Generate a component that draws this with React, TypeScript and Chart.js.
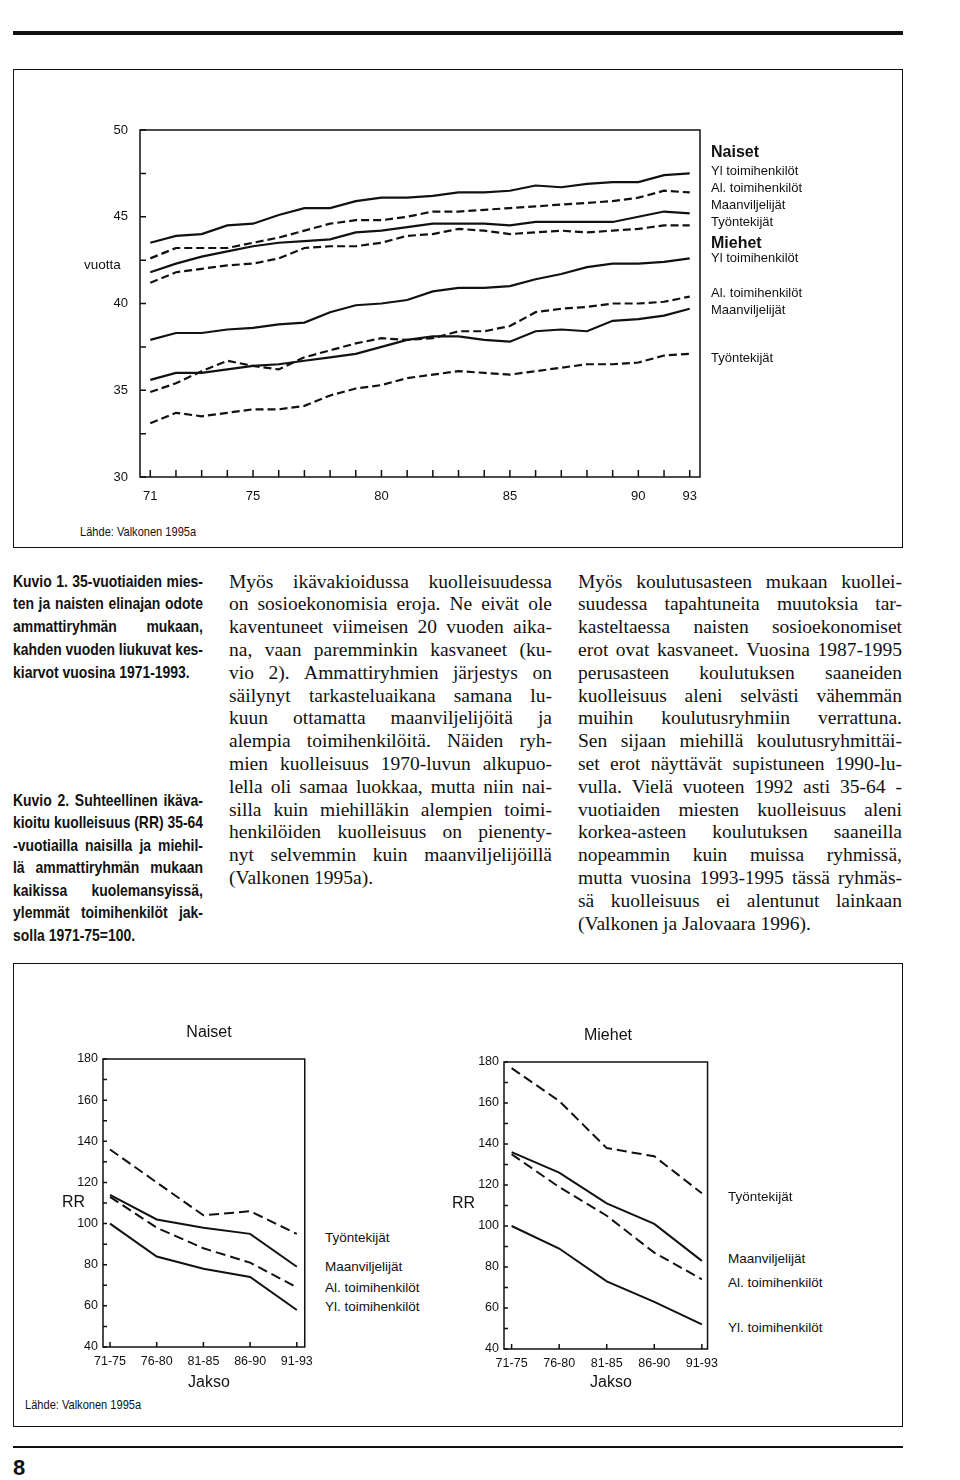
import React, { useEffect, useRef } from 'react';
import { Chart, registerables } from 'chart.js';

Chart.register(...registerables);

const SANS = "'Liberation Sans', Arial, Helvetica, sans-serif";
const SERIF = "'Liberation Serif', 'Times New Roman', serif";
const INK = '#111';

// ---------- Kuvio 1: two-year moving averages 1971-1993 ----------
const yearLabels = ['71', '', '', '', '75', '', '', '', '', '80', '', '', '', '', '85', '', '', '', '', '90', '', '93'];
const topYTicks = [30, 32.5, 35, 37.5, 40, 42.5, 45, 47.5, 50];
const naisetYl = [43.5, 43.9, 44.0, 44.5, 44.6, 45.1, 45.5, 45.5, 45.9, 46.1, 46.1, 46.2, 46.4, 46.4, 46.5, 46.8, 46.7, 46.9, 47.0, 47.0, 47.4, 47.5];
const naisetAl = [42.6, 43.2, 43.2, 43.2, 43.5, 43.8, 44.2, 44.6, 44.8, 44.8, 45.0, 45.3, 45.3, 45.4, 45.5, 45.6, 45.7, 45.8, 45.9, 46.1, 46.5, 46.4];
const naisetMaa = [41.8, 42.3, 42.7, 43.0, 43.3, 43.5, 43.6, 43.7, 44.1, 44.2, 44.4, 44.6, 44.6, 44.6, 44.5, 44.7, 44.7, 44.7, 44.7, 45.0, 45.3, 45.2];
const naisetTyo = [41.2, 41.8, 42.0, 42.2, 42.3, 42.6, 43.2, 43.3, 43.3, 43.5, 43.9, 44.0, 44.3, 44.2, 44.0, 44.1, 44.2, 44.1, 44.2, 44.3, 44.5, 44.5];
const miehetYl = [37.9, 38.3, 38.3, 38.5, 38.6, 38.8, 38.9, 39.5, 39.9, 40.0, 40.2, 40.7, 40.9, 40.9, 41.0, 41.4, 41.7, 42.1, 42.3, 42.3, 42.4, 42.6];
const miehetAl = [34.9, 35.4, 36.1, 36.7, 36.4, 36.2, 36.9, 37.3, 37.7, 38.0, 37.9, 38.0, 38.4, 38.4, 38.7, 39.5, 39.7, 39.8, 40.0, 40.0, 40.1, 40.4];
const miehetMaa = [35.6, 36.0, 36.0, 36.2, 36.4, 36.5, 36.7, 36.9, 37.1, 37.5, 37.9, 38.1, 38.1, 37.9, 37.8, 38.4, 38.5, 38.4, 39.0, 39.1, 39.3, 39.7];
const miehetTyo = [33.1, 33.7, 33.5, 33.7, 33.9, 33.9, 34.1, 34.7, 35.1, 35.3, 35.7, 35.9, 36.1, 36.0, 35.9, 36.1, 36.3, 36.5, 36.5, 36.6, 37.0, 37.1];

// ---------- Kuvio 2: RR by period ----------
const periods = ['71-75', '76-80', '81-85', '86-90', '91-93'];
const rrYTicks = [40, 50, 60, 70, 80, 90, 100, 110, 120, 130, 140, 150, 160, 170, 180];
const nTyo = [136, 120, 104, 106, 95];
const nMaa = [114, 102, 98, 95, 79];
const nAl = [113, 98, 88, 81, 69];
const nYl = [100, 84, 78, 74, 58];
const mTyo = [177, 161, 138, 134, 116];
const mMaa = [136, 126, 111, 101, 83];
const mAl = [135, 119, 105, 87, 74];
const mYl = [100, 89, 73, 63, 52];

// ---------- Text ----------
const kuvio1Lines = [
  'Kuvio 1. 35-vuotiaiden mies-',
  'ten ja naisten elinajan odote',
  'ammattiryhmän mukaan,',
  'kahden vuoden liukuvat kes-',
  'kiarvot vuosina 1971-1993.',
];
const kuvio2Lines = [
  'Kuvio 2. Suhteellinen ikäva-',
  'kioitu kuolleisuus (RR) 35-64',
  '-vuotiailla naisilla ja miehil-',
  'lä ammattiryhmän mukaan',
  'kaikissa kuolemansyissä,',
  'ylemmät toimihenkilöt jak-',
  'solla 1971-75=100.',
];
const midLines = [
  'Myös ikävakioidussa kuolleisuudessa',
  'on sosioekonomisia eroja. Ne eivät ole',
  'kaventuneet viimeisen 20 vuoden aika-',
  'na, vaan paremminkin kasvaneet (ku-',
  'vio 2). Ammattiryhmien järjestys on',
  'säilynyt tarkasteluaikana samana lu-',
  'kuun ottamatta maanviljelijöitä ja',
  'alempia toimihenkilöitä. Näiden ryh-',
  'mien kuolleisuus 1970-luvun alkupuo-',
  'lella oli samaa luokkaa, mutta niin nai-',
  'silla kuin miehilläkin alempien toimi-',
  'henkilöiden kuolleisuus on pienenty-',
  'nyt selvemmin kuin maanviljelijöillä',
  '(Valkonen 1995a).',
];
const rightLines = [
  'Myös koulutusasteen mukaan kuollei-',
  'suudessa tapahtuneita muutoksia tar-',
  'kasteltaessa naisten sosioekonomiset',
  'erot ovat kasvaneet. Vuosina 1987-1995',
  'perusasteen koulutuksen saaneiden',
  'kuolleisuus aleni selvästi vähemmän',
  'muihin koulutusryhmiin verrattuna.',
  'Sen sijaan miehillä koulutusryhmittäi-',
  'set erot näyttävät supistuneen 1990-lu-',
  'vulla. Vielä vuoteen 1992 asti 35-64 -',
  'vuotiaiden miesten kuolleisuus aleni',
  'korkea-asteen koulutuksen saaneilla',
  'nopeammin kuin muissa ryhmissä,',
  'mutta vuosina 1993-1995 tässä ryhmäs-',
  'sä kuolleisuus ei alentunut lainkaan',
  '(Valkonen ja Jalovaara 1996).',
];

// ---------- helpers ----------
let mctx: CanvasRenderingContext2D | null = null;
function measure(text: string, font: string) {
  if (!mctx) mctx = document.createElement('canvas').getContext('2d');
  mctx!.font = font;
  return mctx!.measureText(text).width;
}

function TLine(props: { text: string; x: number; y: number; w: number; font: string; justify?: boolean; squeeze?: number; lh?: number }) {
  const { text, x, y, w, font, justify = true, squeeze = 1, lh = 22 } = props;
  const nat = measure(text, font);
  const s = justify ? Math.min(squeeze, w / nat) : Math.min(squeeze, w / nat);
  const inner = justify ? w / s : nat + 4;
  const words = text.split(' ');
  return (
    <div
      style={{
        position: 'absolute',
        left: x,
        top: y - lh / 2,
        width: inner,
        height: lh,
        font,
        lineHeight: `${lh}px`,
        whiteSpace: 'nowrap',
        display: justify ? 'flex' : 'block',
        justifyContent: 'space-between',
        transform: `scaleX(${s})`,
        transformOrigin: '0 50%',
        color: INK,
      }}
    >
      {justify ? words.map((wd, i) => <span key={i}>{wd}</span>) : text}
    </div>
  );
}

function Block(props: { lines: string[]; x: number; y0: number; step: number; w: number; font: string; squeeze?: number }) {
  const { lines, x, y0, step, w, font, squeeze = 1 } = props;
  return (
    <>
      {lines.map((t, i) => (
        <TLine key={i} text={t} x={x} y={y0 + i * step} w={w} font={font} squeeze={squeeze} justify={i < lines.length - 1} lh={Math.round(step)} />
      ))}
    </>
  );
}

function Label(props: { text: string; x: number; y: number; font: string; align?: 'left' | 'center'; squeeze?: number }) {
  const { text, x, y, font, align = 'left', squeeze = 1 } = props;
  const tr = (align === 'center' ? 'translateX(-50%) ' : '') + `scaleX(${squeeze})`;
  return (
    <div
      style={{
        position: 'absolute',
        left: x,
        top: y - 10,
        height: 20,
        font,
        lineHeight: '20px',
        whiteSpace: 'nowrap',
        color: INK,
        transform: tr,
        transformOrigin: align === 'center' ? '50% 50%' : '0 50%',
      }}
    >
      {text}
    </div>
  );
}

function framePlugin(xTicks: number[], yTicks: number[], xLen: number, yLen: number) {
  return {
    id: 'frame',
    afterDatasetsDraw(chart: any) {
      const { ctx, chartArea: a, scales } = chart;
      ctx.save();
      ctx.strokeStyle = INK;
      ctx.lineWidth = 1.5;
      ctx.setLineDash([]);
      ctx.strokeRect(a.left, a.top, a.right - a.left, a.bottom - a.top);
      ctx.beginPath();
      xTicks.forEach((v) => {
        const px = scales.x.getPixelForValue(v);
        ctx.moveTo(px, a.bottom);
        ctx.lineTo(px, a.bottom - xLen);
      });
      yTicks.forEach((v) => {
        const py = scales.y.getPixelForValue(v);
        ctx.moveTo(a.left, py);
        ctx.lineTo(a.left + yLen, py);
      });
      ctx.stroke();
      ctx.restore();
    },
  };
}

function lineDs(vals: number[], dashed: boolean, width: number, dash: number[]) {
  return {
    data: vals.map((v, i) => ({ x: i, y: v })),
    borderColor: INK,
    borderWidth: width,
    borderDash: dashed ? dash : [],
    pointRadius: 0,
    fill: false,
    tension: 0,
  };
}

function topConfig(): any {
  const series: [number[], boolean][] = [
    [naisetYl, false], [naisetAl, true], [naisetMaa, false], [naisetTyo, true],
    [miehetYl, false], [miehetAl, true], [miehetMaa, false], [miehetTyo, true],
  ];
  return {
    type: 'line',
    data: { datasets: series.map(([v, d]) => lineDs(v, d, 2.2, [8, 4])) },
    options: {
      animation: false,
      responsive: false,
      devicePixelRatio: 1,
      events: [],
      layout: { padding: { left: 0, top: 30, right: 20, bottom: 0 } },
      plugins: { legend: { display: false }, tooltip: { enabled: false } },
      scales: {
        x: {
          type: 'linear',
          min: -0.4,
          max: yearLabels.length - 1 + 0.4,
          afterBuildTicks: (s: any) => { s.ticks = yearLabels.map((_, i) => ({ value: i })); },
          afterFit: (s: any) => { s.height = 43; },
          grid: { display: false, drawTicks: false },
          border: { display: false },
          ticks: { autoSkip: false, maxRotation: 0, padding: 12, color: INK, font: { family: SANS, size: 13 }, callback: (v: any) => yearLabels[v] ?? '' },
        },
        y: {
          min: 30,
          max: 50,
          afterBuildTicks: (s: any) => { s.ticks = topYTicks.map((v) => ({ value: v })); },
          afterFit: (s: any) => { s.width = 140; },
          grid: { display: false, drawTicks: false },
          border: { display: false },
          ticks: { padding: 12, color: INK, font: { family: SANS, size: 13 }, callback: (v: any) => (v % 5 === 0 ? String(v) : '') },
        },
      },
    },
    plugins: [framePlugin(yearLabels.map((_, i) => i), topYTicks, 7, 6)],
  };
}

function rrConfig(sets: [number[], boolean][], xmin: number, xmax: number, yWidth: number, padTop: number, padRight: number, xHeight: number): any {
  return {
    type: 'line',
    data: { datasets: sets.map(([v, d]) => lineDs(v, d, 2, [10, 5])) },
    options: {
      animation: false,
      responsive: false,
      devicePixelRatio: 1,
      events: [],
      layout: { padding: { left: 0, top: padTop, right: padRight, bottom: 0 } },
      plugins: { legend: { display: false }, tooltip: { enabled: false } },
      scales: {
        x: {
          type: 'linear',
          min: xmin,
          max: xmax,
          afterBuildTicks: (s: any) => { s.ticks = periods.map((_, i) => ({ value: i })); },
          afterFit: (s: any) => { s.height = xHeight; },
          grid: { display: false, drawTicks: false },
          border: { display: false },
          ticks: { autoSkip: false, maxRotation: 0, padding: 7, color: INK, font: { family: SANS, size: 12.5 }, callback: (v: any) => periods[v] ?? '' },
        },
        y: {
          min: 40,
          max: 180,
          afterBuildTicks: (s: any) => { s.ticks = rrYTicks.map((v) => ({ value: v })); },
          afterFit: (s: any) => { s.width = yWidth; },
          grid: { display: false, drawTicks: false },
          border: { display: false },
          ticks: { padding: 5, color: INK, font: { family: SANS, size: 12.5 }, callback: (v: any) => (v % 20 === 0 ? String(v) : '') },
        },
      },
    },
    plugins: [framePlugin(periods.map((_, i) => i), rrYTicks, 5, 4)],
  };
}

export default function App() {
  const topRef = useRef<HTMLCanvasElement>(null);
  const nRef = useRef<HTMLCanvasElement>(null);
  const mRef = useRef<HTMLCanvasElement>(null);

  useEffect(() => {
    const charts = [
      new Chart(topRef.current!, topConfig()),
      new Chart(nRef.current!, rrConfig([[nTyo, true], [nMaa, false], [nAl, true], [nYl, false]], -0.15, 4.17, 83, 19, 5, 33)),
      new Chart(mRef.current!, rrConfig([[mTyo, true], [mMaa, false], [mAl, true], [mYl, false]], -0.16, 4.12, 84, 22, 6, 31)),
    ];
    return () => charts.forEach((c) => c.destroy());
  }, []);

  const bodyFont = `19.5px ${SERIF}`;
  const capFont = `bold 17px ${SANS}`;
  const legFont = `13px ${SANS}`;
  const legHead = `bold 16px ${SANS}`;
  const rrLeg = `13.5px ${SANS}`;
  const title = `16px ${SANS}`;
  const srcFont = `13.5px ${SANS}`;

  return (
    <div style={{ position: 'absolute', left: 0, top: 0, width: 960, height: 1480, background: '#fff', overflow: 'hidden' }}>
      {/* page rules and frames */}
      <div style={{ position: 'absolute', left: 13, top: 31, width: 890, height: 4, background: INK }} />
      <div style={{ position: 'absolute', left: 13, top: 69, width: 888, height: 477, border: `1.5px solid ${INK}` }} />
      <div style={{ position: 'absolute', left: 13, top: 963, width: 888, height: 462, border: `1.5px solid ${INK}` }} />
      <div style={{ position: 'absolute', left: 13, top: 1446, width: 890, height: 2, background: INK }} />
      <Label text="8" x={13} y={1468} font={`bold 22px ${SANS}`} />

      {/* Kuvio 1 chart */}
      <canvas ref={topRef} width={720} height={420} style={{ position: 'absolute', left: 0, top: 100, width: 720, height: 420 }} />
      <Label text="vuotta" x={84} y={265} font={`13.5px ${SANS}`} />
      <Label text="Naiset" x={711} y={152} font={legHead} />
      <Label text="Yl toimihenkilöt" x={711} y={171} font={legFont} />
      <Label text="Al. toimihenkilöt" x={711} y={188} font={legFont} />
      <Label text="Maanviljelijät" x={711} y={205} font={legFont} />
      <Label text="Työntekijät" x={711} y={222} font={legFont} />
      <Label text="Miehet" x={711} y={243} font={legHead} />
      <Label text="Yl toimihenkilöt" x={711} y={258} font={legFont} />
      <Label text="Al. toimihenkilöt" x={711} y={293} font={legFont} />
      <Label text="Maanviljelijät" x={711} y={310} font={legFont} />
      <Label text="Työntekijät" x={711} y={358} font={legFont} />
      <Label text="Lähde: Valkonen 1995a" x={80} y={532} font={srcFont} squeeze={0.82} />

      {/* text columns */}
      <Block lines={kuvio1Lines} x={13} y0={581} step={22.8} w={190} font={capFont} squeeze={0.82} />
      <Block lines={kuvio2Lines} x={13} y0={800} step={22.5} w={190} font={capFont} squeeze={0.82} />
      <Block lines={midLines} x={229} y0={581} step={22.8} w={323} font={bodyFont} />
      <Block lines={rightLines} x={578} y0={581} step={22.8} w={324} font={bodyFont} />

      {/* Kuvio 2 charts */}
      <canvas ref={nRef} width={300} height={340} style={{ position: 'absolute', left: 20, top: 1040, width: 300, height: 340 }} />
      <canvas ref={mRef} width={305} height={340} style={{ position: 'absolute', left: 420, top: 1040, width: 305, height: 340 }} />
      <Label text="Naiset" x={209} y={1032} font={title} align="center" />
      <Label text="Miehet" x={608} y={1035} font={title} align="center" />
      <Label text="RR" x={62} y={1202} font={title} />
      <Label text="RR" x={452} y={1203} font={title} />
      <Label text="Jakso" x={209} y={1382} font={title} align="center" />
      <Label text="Jakso" x={611} y={1382} font={title} align="center" />
      <Label text="Työntekijät" x={325} y={1238} font={rrLeg} />
      <Label text="Maanviljelijät" x={325} y={1267} font={rrLeg} />
      <Label text="Al. toimihenkilöt" x={325} y={1288} font={rrLeg} />
      <Label text="Yl. toimihenkilöt" x={325} y={1307} font={rrLeg} />
      <Label text="Työntekijät" x={728} y={1197} font={rrLeg} />
      <Label text="Maanviljelijät" x={728} y={1259} font={rrLeg} />
      <Label text="Al. toimihenkilöt" x={728} y={1283} font={rrLeg} />
      <Label text="Yl. toimihenkilöt" x={728} y={1328} font={rrLeg} />
      <Label text="Lähde: Valkonen 1995a" x={25} y={1405} font={srcFont} squeeze={0.82} />
    </div>
  );
}
